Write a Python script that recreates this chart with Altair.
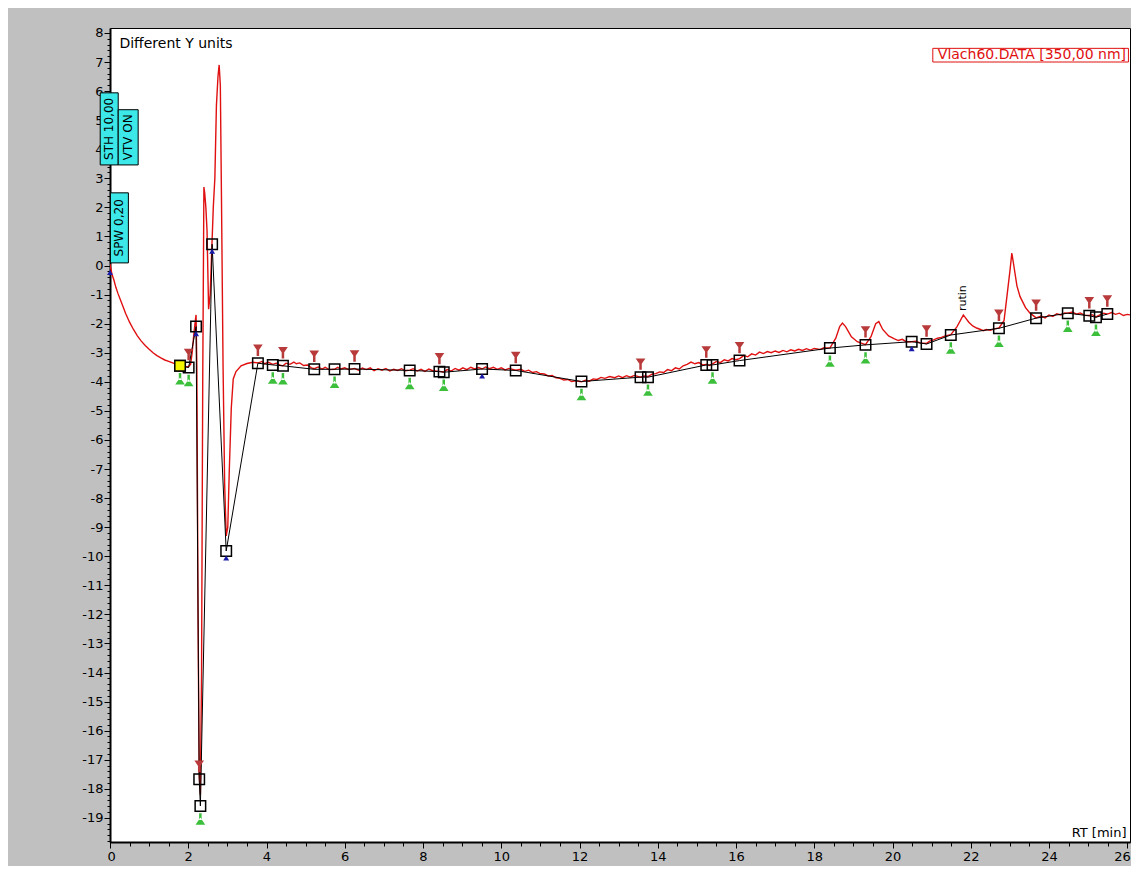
import altair as alt
import pandas as pd

# ---- chromatogram trace (RT min, signal) ----
trace_t = [0.00, 0.02, 0.05, 0.10, 0.15, 0.20, 0.30, 0.40, 0.50, 0.60, 0.70, 0.80, 0.90, 1.00,
           1.10, 1.20, 1.30, 1.40, 1.50, 1.60, 1.70, 1.80, 1.90, 2.00, 2.06, 2.10, 2.14, 2.18,
           2.20, 2.22, 2.25, 2.28, 2.31, 2.34, 2.37, 2.40, 2.42, 2.45, 2.48, 2.52, 2.56, 2.60,
           2.64, 2.68, 2.72, 2.76, 2.79, 2.82, 2.85, 2.89, 2.93, 2.97, 3.01, 3.05, 3.10, 3.15,
           3.22, 3.35, 3.50, 3.65,
           3.80, 3.88, 3.95, 4.05, 4.16, 4.25, 4.35, 4.42, 4.50, 4.60, 4.70, 4.76, 4.85, 4.95,
           5.05, 5.15, 5.22, 5.32, 5.42, 5.50, 5.60, 5.74, 5.82, 5.90, 6.00, 6.10, 6.25, 6.35,
           6.45, 6.55, 6.65, 6.75, 6.85, 6.95, 7.05, 7.15, 7.25, 7.35, 7.45, 7.55, 7.66, 7.75,
           7.85, 7.95, 8.05, 8.15, 8.25, 8.42, 8.53, 8.62, 8.72, 8.82, 8.92, 9.02, 9.12, 9.22,
           9.32, 9.42, 9.51, 9.60, 9.70, 9.80, 9.90, 10.00, 10.10, 10.20, 10.37, 10.50, 10.60,
           10.70, 10.80, 10.90, 10.98, 11.10, 11.20, 11.30, 11.40, 11.50, 11.60, 11.70, 11.80,
           11.90, 12.05, 12.15, 12.25, 12.35, 12.45, 12.55, 12.65, 12.77, 12.90, 13.00, 13.10,
           13.20, 13.30, 13.40, 13.56, 13.65, 13.75, 13.85, 13.95, 14.05, 14.15, 14.25, 14.35,
           14.45, 14.55, 14.65, 14.75, 14.85, 14.95, 15.05, 15.15, 15.24, 15.32, 15.40, 15.50,
           15.60, 15.70, 15.80, 15.90, 16.00, 16.09, 16.20, 16.30, 16.40, 16.50, 16.60, 16.70,
           16.80, 16.90, 17.00, 17.10, 17.20, 17.30, 17.40, 17.50, 17.60, 17.70, 17.80, 17.90,
           18.00, 18.14, 18.25, 18.40, 18.55, 18.65, 18.72, 18.80, 18.95, 19.10, 19.31, 19.45,
           19.57, 19.65, 19.75, 19.90, 20.05, 20.15, 20.25, 20.35, 20.49, 20.60, 20.70, 20.87,
           20.95, 21.05, 21.15, 21.25, 21.35, 21.49, 21.65, 21.81, 21.95, 22.05, 22.15, 22.25,
           22.32, 22.40, 22.50, 22.60, 22.72, 22.85, 22.93, 23.00, 23.05, 23.10, 23.18, 23.26,
           23.40, 23.51, 23.67, 23.80, 23.90, 24.00, 24.10, 24.20, 24.30, 24.40, 24.48, 24.60,
           24.70, 24.80, 24.90, 25.03, 25.10, 25.20, 25.30, 25.40, 25.49, 25.60, 25.70, 25.80,
           25.90, 26.00, 26.07]
trace_v = [0.05, -0.10, -0.30, -0.50, -0.75, -0.95, -1.30, -1.65, -1.95, -2.20, -2.42, -2.60, -2.75, -2.88,
           -3.00, -3.10, -3.18, -3.25, -3.30, -3.35, -3.40, -3.44, -3.47, -3.48, -3.40, -3.00, -2.40, -1.90,
           -1.70, -3.50, -12.0, -17.5, -18.2, -14.0, -4.0, 2.70, 2.50, 2.00, 1.20, -1.50, -1.00, 0.50,
           2.00, 3.00, 5.50, 6.50, 6.90, 6.20, 2.20, -3.50, -7.50, -9.30, -9.00, -7.00, -4.90, -3.90,
           -3.65, -3.45, -3.37, -3.33,
           -3.35, -3.30, -3.38, -3.33, -3.40, -3.36, -3.43, -3.45, -3.36, -3.40, -3.32, -3.38, -3.35, -3.44,
           -3.42, -3.52, -3.55, -3.49, -3.56, -3.50, -3.58, -3.57, -3.50, -3.56, -3.52, -3.58, -3.54, -3.60,
           -3.53, -3.58, -3.52, -3.62, -3.55, -3.60, -3.54, -3.63, -3.57, -3.61, -3.55, -3.62, -3.60, -3.55,
           -3.63, -3.57, -3.64, -3.56, -3.62, -3.64, -3.66, -3.58, -3.63, -3.54, -3.60, -3.52, -3.58, -3.50,
           -3.56, -3.51, -3.56, -3.49, -3.55, -3.50, -3.57, -3.52, -3.59, -3.54, -3.60, -3.57, -3.64,
           -3.60, -3.68, -3.65, -3.71, -3.73, -3.80, -3.78, -3.86, -3.88, -3.94, -3.92, -3.99,
           -3.97, -4.00, -3.95, -3.98, -3.90, -3.92, -3.85, -3.88, -3.82, -3.86, -3.80, -3.86,
           -3.79, -3.84, -3.78, -3.84, -3.80, -3.82, -3.74, -3.72, -3.66, -3.68, -3.58, -3.62,
           -3.52, -3.56, -3.45, -3.40, -3.32, -3.38, -3.34, -3.42, -3.40, -3.44, -3.38, -3.30,
           -3.34, -3.24, -3.28, -3.20, -3.24, -3.20, -3.10, -3.14, -3.04, -3.08, -2.98, -3.03,
           -2.96, -3.00, -2.94, -2.99, -2.92, -2.97, -2.90, -2.94, -2.88, -2.92, -2.86, -2.91,
           -2.85, -2.89, -2.83, -2.84, -2.50, -2.10, -1.98, -2.10, -2.45, -2.62, -2.72, -2.45,
           -2.00, -1.93, -2.20, -2.42, -2.52, -2.58, -2.54, -2.62, -2.62, -2.60, -2.66, -2.68,
           -2.60, -2.56, -2.50, -2.47, -2.42, -2.38, -2.10, -1.70, -1.95, -2.08, -2.15, -2.20,
           -2.24, -2.20, -2.23, -2.18, -2.15, -1.90, -1.00, -0.20, 0.43, 0.00, -0.70, -1.07,
           -1.45, -1.63, -1.80, -1.74, -1.80, -1.70, -1.75, -1.66, -1.70, -1.63, -1.64, -1.60,
           -1.67, -1.63, -1.71, -1.72, -1.69, -1.77, -1.70, -1.64, -1.67, -1.62, -1.68, -1.64,
           -1.72, -1.68, -1.70]

# ---- integration points (baseline squares) ----
pt_t = [1.79, 2.01, 2.20, 2.28, 2.31, 2.61, 2.97, 3.78, 4.16, 4.42, 5.22, 5.74, 6.25, 7.66,
        8.42, 8.53, 9.51, 10.37, 12.05, 13.56, 13.75, 15.24, 15.40, 16.09, 18.40, 19.31,
        20.49, 20.87, 21.49, 22.72, 23.67, 24.48, 25.03, 25.20, 25.49]
pt_v = [-3.45, -3.51, -2.10, -17.67, -18.59, 0.73, -9.82, -3.36, -3.42, -3.45, -3.57, -3.57,
        -3.56, -3.61, -3.65, -3.67, -3.56, -3.61, -3.99, -3.84, -3.84, -3.42, -3.42, -3.27,
        -2.84, -2.73, -2.62, -2.70, -2.39, -2.16, -1.81, -1.64, -1.73, -1.78, -1.67]

red_marks = [2.01, 2.28, 3.78, 4.42, 5.22, 6.25, 8.42, 10.37, 13.56, 15.24, 16.09, 19.31,
             20.87, 22.72, 23.67, 25.03, 25.49]
green_marks = [1.79, 2.01, 2.31, 4.16, 4.42, 5.74, 7.66, 8.53, 12.05, 13.75, 15.40, 18.40,
               19.31, 21.49, 22.72, 24.48, 25.20]
blue_marks = [2.20, 2.61, 2.97, 9.51, 20.49]
start_t, start_v = [0.0], [0.0]

# ---- parameter boxes (RT range, signal range, label) ----
box_labels = ["STH 10,00", "VTV ON", "SPW 0,20"]
box_t0 = [-0.25, 0.21, 0.01]
box_t1 = [0.21, 0.72, 0.47]
box_v0 = [3.46, 3.46, 0.09]
box_v1 = [5.94, 5.36, 2.50]

legend_label = "Vlach60.DATA [350,00 nm]"
peak_label = "rutin"
peak_label_t, peak_label_v = 21.81, -1.12

x_major = list(range(0, 27, 2))
y_major = list(range(-19, 9))
x_minor = [round(0.5 * i, 1) for i in range(53)]
y_minor = [round(-19.8 + 0.2 * i, 1) for i in range(140)]

XDOM = [0, 26.07]
YDOM = [-19.83, 8.17]
FONT = "DejaVu Sans"

trace = pd.DataFrame({"t": trace_t, "v": trace_v})
pts = pd.DataFrame({"t": pt_t, "v": pt_v})
lookup = dict(zip(pt_t, pt_v))
reds = pd.DataFrame({"t": red_marks, "v": [lookup[t] for t in red_marks]})
greens = pd.DataFrame({"t": green_marks, "v": [lookup[t] for t in green_marks]})
blues = pd.DataFrame({"t": blue_marks + start_t, "v": [lookup[t] for t in blue_marks] + start_v})
yellow = pd.DataFrame({"t": [pt_t[0]], "v": [pt_v[0]]})
boxes = pd.DataFrame({"label": box_labels, "t0": box_t0, "t1": box_t1, "v0": box_v0, "v1": box_v1})
boxes["tm"] = (boxes.t0 + boxes.t1) / 2
boxes["vm"] = (boxes.v0 + boxes.v1) / 2

xs = alt.Scale(domain=XDOM, nice=False, zero=False)
ys = alt.Scale(domain=YDOM, nice=False, zero=False)

x_axis = alt.Axis(
    values=x_major, grid=False, domainColor="black", domainWidth=2, tickColor="black",
    tickSize=6, tickWidth=1, labelExpr="'' + datum.value",
    labelOverlap=False, labelFont=FONT, labelFontSize=13, labelColor="black", labelPadding=2,
    title="RT [min]", titleFont=FONT, titleFontSize=13, titleFontWeight="normal",
    titleColor="black", titleAnchor="end", titleAlign="right", titleBaseline="bottom",
    titleX=1016, titleY=-3, labelFlush=5, labelFlushOffset=3, orient="bottom",
)
y_axis = alt.Axis(
    values=y_major, grid=False, domainColor="black", domainWidth=2, tickColor="black",
    tickSize=6, tickWidth=1, labelExpr="'' + datum.value",
    labelOverlap=False, labelFont=FONT, labelFontSize=13, labelColor="black", labelPadding=1,
    title=None, labelFlush=False, orient="left",
)
x_minor_axis = alt.Axis(values=x_minor, grid=False, domain=False, labels=False, tickColor="black",
                        tickSize=4, tickWidth=1, title=None, orient="bottom")
y_minor_axis = alt.Axis(values=y_minor, grid=False, domain=False, labels=False, tickColor="black",
                        tickSize=3, tickWidth=1, title=None, orient="left")

line = alt.Chart(trace).mark_line(color="#e01010", strokeWidth=1.4, clip=True).encode(
    x=alt.X("t:Q", scale=xs, axis=x_axis),
    y=alt.Y("v:Q", scale=ys, axis=y_axis),
    order="t:Q",
)
minor = alt.Chart(trace).mark_point(opacity=0, size=1).encode(
    x=alt.X("t:Q", scale=xs, axis=x_minor_axis),
    y=alt.Y("v:Q", scale=ys, axis=y_minor_axis),
)


def X(f="t"):
    return alt.X(f"{f}:Q", scale=xs, axis=None)


def Y(f="v"):
    return alt.Y(f"{f}:Q", scale=ys, axis=None)


base = alt.Chart(pts).mark_line(color="black", strokeWidth=1).encode(x=X(), y=Y(), order="t:Q")
squares = alt.Chart(pts).mark_point(shape="square", size=110, filled=False, color="black",
                                    strokeWidth=1.5, opacity=1).encode(x=X(), y=Y())
yel = alt.Chart(yellow).mark_point(shape="square", size=110, filled=True, fill="#f5f500",
                                   stroke="black", strokeWidth=1.5, opacity=1).encode(x=X(), y=Y())

red_shape = "M-0.85,-1L0.85,-1L0,0.25Z M-0.22,-0.2L0.22,-0.2L0.22,1L-0.22,1Z"
green_shape = "M-0.22,-1L0.22,-1L0.22,0.2L-0.22,0.2Z M-0.85,1L0.85,1L0,-0.25Z"
redm = alt.Chart(reds).mark_point(shape=red_shape, size=130, filled=True, color="#b83a3a",
                                  opacity=1, yOffset=-13).encode(x=X(), y=Y())
greenm = alt.Chart(greens).mark_point(shape=green_shape, size=130, filled=True, color="#3cc03c",
                                      opacity=1, yOffset=13).encode(x=X(), y=Y())
bluem = alt.Chart(blues).mark_point(shape="triangle-up", size=35, filled=True, color="#1a1aa8",
                                    opacity=1, yOffset=7).encode(x=X(), y=Y())

box_rects = alt.Chart(boxes).mark_rect(fill="#3ce8e8", stroke="black", strokeWidth=1).encode(
    x=X("t0"), x2="t1:Q", y=Y("v0"), y2="v1:Q")
box_text = alt.Chart(boxes).mark_text(angle=270, font=FONT, fontSize=12, color="black",
                                      align="center", baseline="middle").encode(
    x=X("tm"), y=Y("vm"), text="label:N")

lab_df = pd.DataFrame({"t": [peak_label_t], "v": [peak_label_v], "label": [peak_label]})
rutin = alt.Chart(lab_df).mark_text(angle=270, font=FONT, fontSize=11, color="black",
                                    align="center", baseline="middle").encode(
    x=X(), y=Y(), text="label:N")

leg_df = pd.DataFrame({"t0": [21.03], "t1": [26.03], "v0": [7.0], "v1": [7.47],
                       "tt": [25.97], "vt": [7.235], "label": [legend_label]})
leg_rect = alt.Chart(leg_df).mark_rect(fill="white", stroke="#e01010", strokeWidth=1).encode(
    x=X("t0"), x2="t1:Q", y=Y("v0"), y2="v1:Q")
leg_text = alt.Chart(leg_df).mark_text(font=FONT, fontSize=14, color="#e01010", align="right",
                                       baseline="middle").encode(x=X("tt"), y=Y("vt"), text="label:N")

title_df = pd.DataFrame({"t": [0.24], "v": [7.63], "label": ["Different Y units"]})
ytitle = alt.Chart(title_df).mark_text(font=FONT, fontSize=14, color="black", align="left",
                                       baseline="middle").encode(x=X(), y=Y(), text="label:N")

chart = alt.layer(
    line, minor, base, squares, yel, redm, greenm, bluem, box_rects, box_text, rutin,
    leg_rect, leg_text, ytitle
).resolve_axis(x="independent", y="independent").properties(
    width=1020, height=814,
    autosize=alt.AutoSizeParams(type="none"),
    padding={"left": 102, "top": 20, "right": 1, "bottom": 24},
    background="#c0c0c0",
).configure_view(fill="white", stroke="black", strokeWidth=1)

chart.save("out.html", embed_options={"renderer": "svg", "actions": False})
